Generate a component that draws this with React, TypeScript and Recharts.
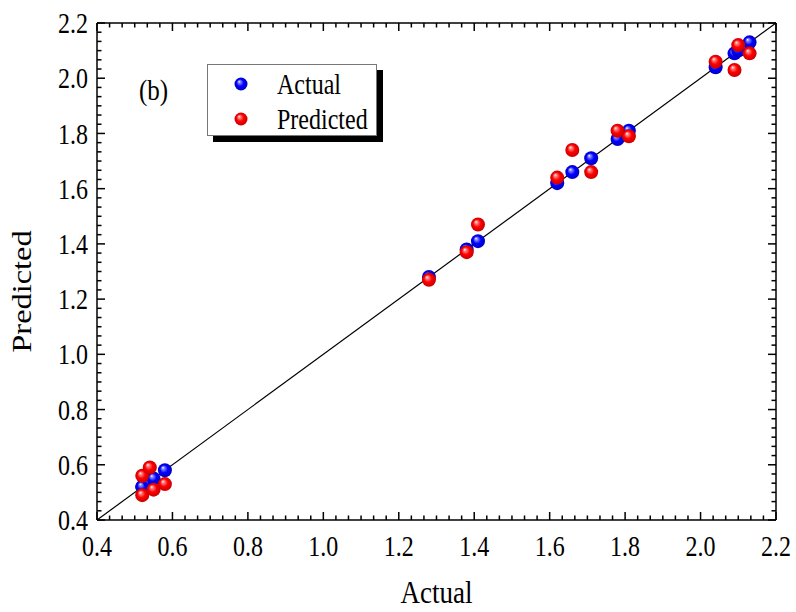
import React from "react";
import { ScatterChart, Scatter, XAxis, YAxis, ReferenceLine } from "recharts";

// values (b)
const actual = [0.52, 0.52, 0.54, 0.55, 0.58, 1.28, 1.38, 1.41, 1.62, 1.66, 1.71, 1.78, 1.81, 2.04, 2.09, 2.1, 2.13];
const predicted = [0.56, 0.49, 0.59, 0.51, 0.53, 1.27, 1.37, 1.47, 1.64, 1.74, 1.66, 1.81, 1.79, 2.06, 2.03, 2.12, 2.09];

const majorTicks = [0.4, 0.6, 0.8, 1.0, 1.2, 1.4, 1.6, 1.8, 2.0, 2.2];
const axisDomain = [0.4, 2.2];
const minorPerMajor = 6;

const allTicks: number[] = [];
majorTicks.forEach((t, i) => {
  allTicks.push(t);
  if (i < majorTicks.length - 1) {
    const step = (majorTicks[i + 1] - t) / minorPerMajor;
    for (let k = 1; k < minorPerMajor; k++) allTicks.push(t + step * k);
  }
});

const actualPoints = actual.map((a) => ({ x: a, y: a }));
const predictedPoints = actual.map((a, i) => ({ x: a, y: predicted[i] }));

const FONT = '"Liberation Serif", "Times New Roman", serif';
const MAJOR_LEN = 8;
const MINOR_LEN = 4.5;
const TICK_W = 1.5;

const isMajor = (v: number) => majorTicks.some((m) => Math.abs(m - v) < 1e-6);

function BottomTick(props: any) {
  const { x, y, payload } = props;
  const axisY = y - 14;
  const major = isMajor(payload.value);
  return (
    <g>
      <rect x={x - TICK_W / 2} y={axisY - (major ? MAJOR_LEN : MINOR_LEN)} width={TICK_W} height={major ? MAJOR_LEN : MINOR_LEN} fill="#000" />
      {major && (
        <g transform={`translate(${x},${y})`}>
          <text transform="scale(1,1.2)" textAnchor="middle" dy="0.75em" fontSize={24} fontFamily={FONT} fill="#000">
            {payload.value.toFixed(1)}
          </text>
        </g>
      )}
    </g>
  );
}

function TopTick(props: any) {
  const { x, y, payload } = props;
  const axisY = y + 4;
  const major = isMajor(payload.value);
  return <rect x={x - TICK_W / 2} y={axisY} width={TICK_W} height={major ? MAJOR_LEN : MINOR_LEN} fill="#000" />;
}

function LeftTick(props: any) {
  const { x, y, payload } = props;
  const axisX = x + 9;
  const major = isMajor(payload.value);
  return (
    <g>
      <rect x={axisX} y={y - TICK_W / 2} width={major ? MAJOR_LEN : MINOR_LEN} height={TICK_W} fill="#000" />
      {major && (
        <g transform={`translate(${x},${y})`}>
          <text transform="scale(1,1.2)" textAnchor="end" dy="0.35em" fontSize={24} fontFamily={FONT} fill="#000">
            {payload.value.toFixed(1)}
          </text>
        </g>
      )}
    </g>
  );
}

function RightTick(props: any) {
  const { x, y, payload } = props;
  const axisX = x - 4;
  const len = isMajor(payload.value) ? MAJOR_LEN : MINOR_LEN;
  return <rect x={axisX - len} y={y - TICK_W / 2} width={len} height={TICK_W} fill="#000" />;
}

const sphere = (fill: string) => (props: any) => (
  <circle cx={props.cx} cy={props.cy} r={7} fill={fill} />
);
const nothing = () => <g />;

function SphereIcon({ fill }: { fill: string }) {
  return (
    <svg width={14} height={14} style={{ display: "block" }}>
      <circle cx={7} cy={7} r={6.5} fill={fill} />
    </svg>
  );
}

const stretched: React.CSSProperties = {
  position: "absolute",
  fontFamily: FONT,
  fontSize: 24,
  lineHeight: "24px",
  whiteSpace: "nowrap",
  transform: "scaleY(1.2)",
  transformOrigin: "left center",
  color: "#000",
};

const frame = { stroke: "#000", strokeWidth: 1.5 };

export default function App() {
  return (
    <div style={{ position: "absolute", left: 0, top: 0, width: 796, height: 612, background: "#fff" }}>
      <svg width={0} height={0} style={{ position: "absolute" }}>
        <defs>
          <radialGradient id="sphereBlue" cx="0.5" cy="0.5" r="0.5" fx="0.35" fy="0.3">
            <stop offset="0%" stopColor="#ffffff" />
            <stop offset="18%" stopColor="#8a8aff" />
            <stop offset="55%" stopColor="#0000ff" />
            <stop offset="100%" stopColor="#0000c0" />
          </radialGradient>
          <radialGradient id="sphereRed" cx="0.5" cy="0.5" r="0.5" fx="0.35" fy="0.3">
            <stop offset="0%" stopColor="#ffffff" />
            <stop offset="18%" stopColor="#ff8a8a" />
            <stop offset="55%" stopColor="#ff0000" />
            <stop offset="100%" stopColor="#c80000" />
          </radialGradient>
        </defs>
      </svg>

      <ScatterChart width={796} height={612} margin={{ top: 22, right: 19, bottom: 0, left: 0 }}>
        <XAxis
          xAxisId="b"
          dataKey="x"
          type="number"
          domain={axisDomain}
          ticks={allTicks}
          interval={0}
          height={92}
          tickSize={0}
          tickMargin={14}
          tickLine={false}
          axisLine={frame}
          tick={(p: any) => <BottomTick {...p} />}
          label={{
            content: (p: any) => {
              const vb = p.viewBox;
              return (
                <g transform={`translate(${vb.x + vb.width / 2},${vb.y + vb.height - 20})`}>
                  <text transform="scale(1,1.2)" textAnchor="middle" dy="0.35em" fontSize={27} fontFamily={FONT} fill="#000">
                    Actual
                  </text>
                </g>
              );
            },
          }}
        />
        <XAxis
          xAxisId="t"
          dataKey="x"
          orientation="top"
          type="number"
          domain={axisDomain}
          ticks={allTicks}
          interval={0}
          height={1}
          tickSize={0}
          tickMargin={4}
          tickLine={false}
          axisLine={frame}
          tick={(p: any) => <TopTick {...p} />}
        />
        <YAxis
          yAxisId="l"
          dataKey="y"
          type="number"
          domain={axisDomain}
          ticks={allTicks}
          interval={0}
          width={97}
          tickSize={0}
          tickMargin={9}
          tickLine={false}
          axisLine={frame}
          tick={(p: any) => <LeftTick {...p} />}
          label={{
            content: (p: any) => {
              const vb = p.viewBox;
              return (
                <g transform={`translate(${vb.x + 22},${vb.y + vb.height / 2 + 20}) rotate(-90)`}>
                  <text transform="scale(1.2,1)" textAnchor="middle" dy="0.35em" fontSize={27} fontFamily={FONT} fill="#000">
                    Predicted
                  </text>
                </g>
              );
            },
          }}
        />
        <YAxis
          yAxisId="r"
          dataKey="y"
          orientation="right"
          type="number"
          domain={axisDomain}
          ticks={allTicks}
          interval={0}
          width={1}
          tickSize={0}
          tickMargin={4}
          tickLine={false}
          axisLine={frame}
          tick={(p: any) => <RightTick {...p} />}
        />
        <ReferenceLine
          xAxisId="b"
          yAxisId="l"
          segment={[{ x: 0.4, y: 0.4 }, { x: 2.2, y: 2.2 }]}
          stroke="#000"
          strokeWidth={1.2}
        />
        {/* keeps the top/right frame axes bound to data */}
        <Scatter data={actualPoints} xAxisId="t" yAxisId="r" shape={nothing} isAnimationActive={false} legendType="none" />
        <Scatter
          name="Actual"
          data={actualPoints}
          xAxisId="b"
          yAxisId="l"
          shape={sphere("url(#sphereBlue)")}
          isAnimationActive={false}
        />
        <Scatter
          name="Predicted"
          data={predictedPoints}
          xAxisId="b"
          yAxisId="l"
          shape={sphere("url(#sphereRed)")}
          isAnimationActive={false}
        />
      </ScatterChart>

      <div style={{ ...stretched, left: 139, top: 78, fontSize: 25 }}>(b)</div>

      <div
        style={{
          position: "absolute",
          left: 207,
          top: 64,
          width: 170,
          height: 72,
          boxSizing: "border-box",
          border: "1px solid #777",
          background: "#fff",
          boxShadow: "6px 6px 0 #000",
        }}
      >
        <div style={{ position: "absolute", left: 26, top: 12 }}>
          <SphereIcon fill="url(#sphereBlue)" />
        </div>
        <div style={{ ...stretched, left: 69, top: 7 }}>Actual</div>
        <div style={{ position: "absolute", left: 26, top: 47 }}>
          <SphereIcon fill="url(#sphereRed)" />
        </div>
        <div style={{ ...stretched, left: 69, top: 42 }}>Predicted</div>
      </div>
    </div>
  );
}
